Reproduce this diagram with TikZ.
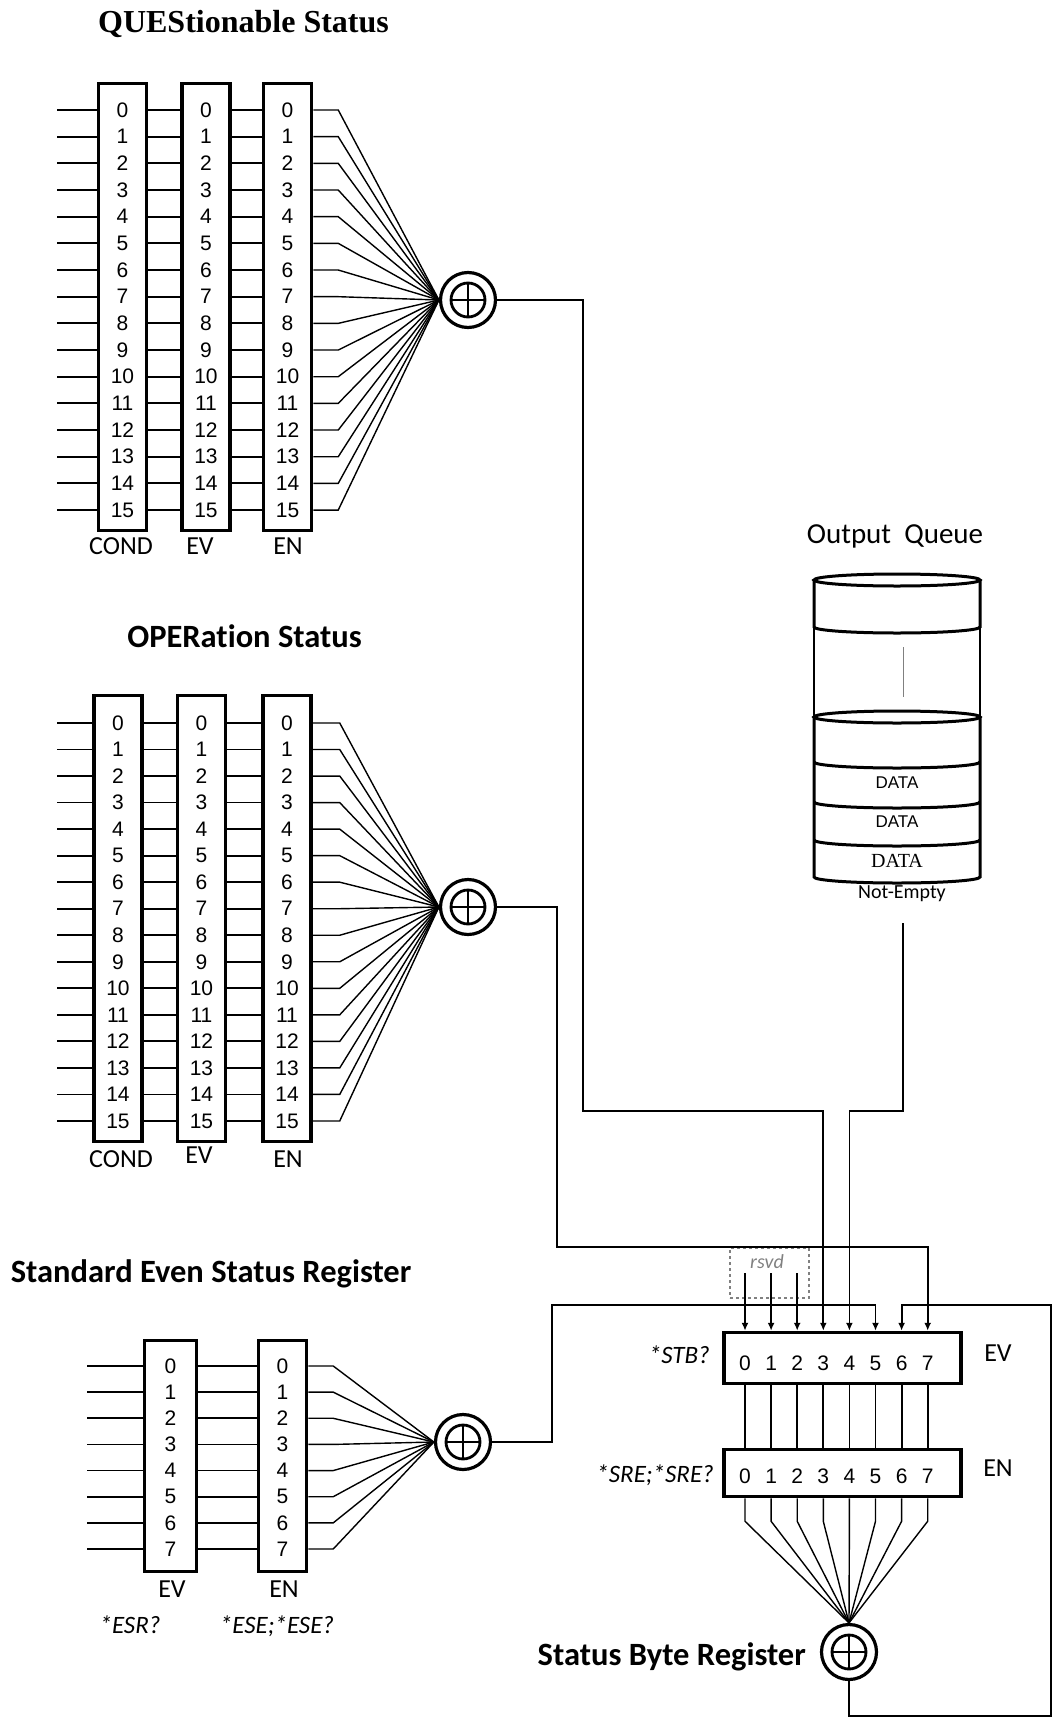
\documentclass[tikz,border=0pt]{standalone}
\usepackage{fontspec}
\setmainfont{Liberation Sans}
\newfontfamily\calfont{Carlito}[Ligatures=NoCommon]
\newfontfamily\serfont{Liberation Serif}
\usepackage{tikz}
\usetikzlibrary{arrows.meta}

\tikzset{
  regbox/.style={draw, line width=3.5pt, minimum width=48pt, inner sep=0pt},
  bitnum/.style={inner sep=0pt, font=\fontsize{21}{21}\selectfont},
  wire/.style={line width=1.8pt},
  fanwire/.style={line width=1.4pt},
  sumnode/.style={circle, draw, line width=3.2pt, minimum size=55pt, inner sep=0pt,
    path picture={
      \draw[line width=2.8pt] (path picture bounding box.center) circle (17pt);
      \draw[line width=1.4pt] ([xshift=-16pt]path picture bounding box.center) -- ([xshift=16pt]path picture bounding box.center)
                              ([yshift=-16pt]path picture bounding box.center) -- ([yshift=16pt]path picture bounding box.center);
    }},
  titletext/.style={anchor=base, inner sep=0pt, font=\calfont\bfseries\fontsize{32.5}{32.5}\selectfont},
  reglabel/.style={anchor=base, inner sep=0pt, font=\calfont\fontsize{26}{26}\selectfont},
  cmdlabel/.style={anchor=base, inner sep=0pt, font=\calfont\itshape\fontsize{25}{25}\selectfont},
}

\begin{document}
\begin{tikzpicture}[x=1pt, y=-1pt, >={Latex[length=8pt, width=7pt]}]
  \useasboundingbox (0,0) rectangle (1053,1718);

  % ---- QUEStionable status ----
  \node[anchor=base, inner sep=0pt, font=\serfont\bfseries\fontsize{32}{32}\selectfont] (questitle) at (243.5,33) {QUEStionable Status};
  \node[regbox, minimum height=447pt] (qcond) at (122.5,307) {};
  \node[regbox, minimum height=447pt] (qev)   at (206,307) {};
  \node[regbox, minimum height=447pt] (qen)   at (287.5,307) {};
  \node[sumnode] (qsum) at (468,300) {};
  \foreach \i in {0,...,15} {
    \pgfmathsetmacro{\yy}{110+26.67*\i}
    \coordinate (qin\i) at (57,\yy);
    \node[bitnum] (qc\i) at (qcond |- qin\i) {\i};
    \node[bitnum] (qv\i) at (qev |- qin\i) {\i};
    \node[bitnum] (qn\i) at (qen |- qin\i) {\i};
    \draw[wire] (qin\i) -- (qcond.west |- qin\i)
                (qcond.east |- qin\i) -- (qev.west |- qin\i)
                (qev.east |- qin\i) -- (qen.west |- qin\i);
    \draw[fanwire] (qen.east |- qin\i) -- ++(25,0) -- (qsum.west);
  }
  \node[reglabel] (qcondlbl) at (121,554) {COND};
  \node[reglabel] (qevlbl)   at (200,554) {EV};
  \node[reglabel] (qenlbl)   at (288,554) {EN};

  % ---- OPERation status ----
  \node[titletext] (opertitle) at (244.5,647) {OPERation Status};
  \node[regbox, minimum height=446pt] (ocond) at (118,918.5) {};
  \node[regbox, minimum height=446pt] (oev)   at (201.5,918.5) {};
  \node[regbox, minimum height=446pt] (oen)   at (287,918.5) {};
  \node[sumnode] (osum) at (468,907) {};
  \foreach \i in {0,...,15} {
    \pgfmathsetmacro{\yy}{723+26.53*\i}
    \coordinate (oin\i) at (57,\yy);
    \node[bitnum] (oc\i) at (ocond |- oin\i) {\i};
    \node[bitnum] (ov\i) at (oev |- oin\i) {\i};
    \node[bitnum] (on\i) at (oen |- oin\i) {\i};
    \draw[wire] (oin\i) -- (ocond.west |- oin\i)
                (ocond.east |- oin\i) -- (oev.west |- oin\i)
                (oev.east |- oin\i) -- (oen.west |- oin\i);
    \draw[fanwire] (oen.east |- oin\i) -- ++(27,0) -- (osum.west);
  }
  \node[reglabel] (ocondlbl) at (121,1167) {COND};
  \node[reglabel] (oevlbl)   at (199,1163) {EV};
  \node[reglabel] (oenlbl)   at (288,1167) {EN};

  % ---- Standard event status register ----
  \node[titletext] (esrtitle) at (211,1282) {Standard Even Status Register};
  \node[regbox, minimum width=52pt, minimum height=231pt] (eev) at (170.5,1456) {};
  \node[regbox, minimum height=231pt] (een) at (282.5,1456) {};
  \node[sumnode] (esum) at (463,1442) {};
  \foreach \i in {0,...,7} {
    \pgfmathsetmacro{\yy}{1366+26.14*\i}
    \coordinate (ein\i) at (87,\yy);
    \node[bitnum] (ev\i) at (eev |- ein\i) {\i};
    \node[bitnum] (en\i) at (een |- ein\i) {\i};
    \draw[wire] (ein\i) -- (eev.west |- ein\i)
                (eev.east |- ein\i) -- (een.west |- ein\i);
    \draw[fanwire] (een.east |- ein\i) -- ++(25,0) -- (esum.west);
  }
  \node[reglabel] (eevlbl) at (172,1597) {EV};
  \node[reglabel] (eenlbl) at (284,1597) {EN};
  \node[cmdlabel] (esrq) at (130,1633) {*ESR?};
  \node[cmdlabel] (eseq) at (277,1633) {*ESE;*ESE?};

  % ---- Output queue ----
  \node[anchor=base, inner sep=0pt, font=\calfont\fontsize{29}{29}\selectfont] (oqtitle) at (895,543) {Output\ \ Queue};
  \begin{scope}[line width=3pt]
    \draw (897,580) ellipse [x radius=83, y radius=6];
    \draw (814,580) -- (814,627) arc[start angle=180, end angle=0, x radius=83, y radius=6] -- (980,580);
    \draw (897,717) ellipse [x radius=83, y radius=6];
    \draw (814,717) -- (814,877) arc[start angle=180, end angle=0, x radius=83, y radius=6] -- (980,717);
    \foreach \yy in {762,802,840}
      \draw (814,\yy) arc[start angle=180, end angle=0, x radius=83, y radius=6];
  \end{scope}
  \draw[line width=1.2pt] (814,627) -- (814,717) (980,627) -- (980,717);
  \draw[line width=1pt, gray] (903,647) -- (903,697);
  \node[anchor=base, inner sep=0pt, font=\fontsize{17}{17}\selectfont] (data1) at (897,788) {DATA};
  \node[anchor=base, inner sep=0pt, font=\fontsize{17}{17}\selectfont] (data2) at (897,827) {DATA};
  \node[anchor=base, inner sep=0pt, font=\serfont\fontsize{20}{20}\selectfont] (data3) at (897,867) {DATA};
  \node[anchor=base, inner sep=0pt, font=\calfont\fontsize{20}{20}\selectfont] (notempty) at (902,898) {Not-Empty};
  \coordinate (qout) at (903,923);

  % ---- Status byte register ----
  \node[regbox, minimum width=237pt, minimum height=51pt] (sbev) at (842.5,1358) {};
  \node[regbox, minimum width=237pt, minimum height=47pt] (sben) at (842.5,1473) {};
  \node[sumnode] (sbsum) at (849,1652) {};
  \foreach \i in {0,...,7} {
    \pgfmathsetmacro{\xx}{745+26.1*\i}
    \node[bitnum] (sbv\i) at (\xx,1363) {\i};
    \node[bitnum] (sbn\i) at (\xx,1476) {\i};
    \draw[wire] (sbv\i |- sbev.south) -- (sbv\i |- sben.north);
    \draw[fanwire] (sbv\i |- sben.south) -- ++(0,23) -- (sbsum.north);
  }
  \node[cmdlabel, anchor=base east] (stbq) at (710,1363) {*STB?};
  \node[cmdlabel, anchor=base east] (sreq) at (714,1482) {*SRE;*SRE?};
  \node[reglabel] (sbevlbl) at (998,1361) {EV};
  \node[reglabel] (sbenlbl) at (998,1476) {EN};
  \node[titletext, anchor=base east] (sbtitle) at (806,1665) {Status Byte Register};

  % reserved bits
  \node[draw, dashed, gray, line width=1.2pt, minimum width=79pt, minimum height=50pt, inner sep=0pt] (rsvd) at (769.5,1273) {};
  \node[anchor=base, inner sep=0pt, text=gray, font=\calfont\itshape\fontsize{20}{20}\selectfont] (rsvdtxt) at (767,1268) {rsvd};
  \foreach \i in {0,1,2}
    \draw[wire, ->] (sbv\i |- rsvd.center) -- (sbv\i |- sbev.north);

  % ---- Summary routes ----
  \coordinate (qbus) at (583,1111);
  \coordinate (obus) at (557,1247);
  \coordinate (ebus) at (552,1305);
  \coordinate (sbloop) at (1051,1716);
  \draw[wire, ->] (qsum.east) -| (qbus) -| (sbv3 |- sbev.north);
  \draw[wire, ->] (qout) |- (sbv4 |- qbus) -- (sbv4 |- sbev.north);
  \draw[wire, ->] (osum.east) -| (obus) -| (sbv7 |- sbev.north);
  \draw[wire, ->] (esum.east) -| (ebus) -| (sbv5 |- sbev.north);
  \draw[wire, ->] (sbsum.south) |- (sbloop) -- (sbloop |- ebus) -| (sbv6 |- sbev.north);
\end{tikzpicture}
\end{document}
